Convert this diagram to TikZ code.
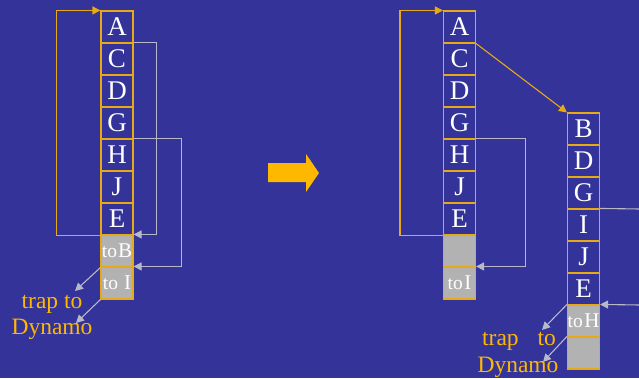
\documentclass[tikz,border=0pt]{standalone}
\usepackage{fontspec}
\setmainfont{Liberation Serif}
\usetikzlibrary{arrows.meta}
\definecolor{bgblue}{RGB}{51,51,153}
\definecolor{gold}{RGB}{255,184,0}
\definecolor{edgegold}{RGB}{232,170,20}
\definecolor{cellgray}{RGB}{178,178,178}
\definecolor{linegray}{RGB}{184,184,200}
% "to X" label: small "to", larger target letter, adjustable gap
\newcommand{\jumpto}[2][1.5pt]{to\kern#1{\fontsize{21}{21}\selectfont #2}}
\tikzset{
  cell/.style={draw=edgegold, line width=1.1pt, minimum width=32pt, minimum height=32pt,
    inner sep=0pt, text=white, font=\fontsize{27}{27}\selectfont},
  grcell/.style={cell, fill=cellgray, font=\fontsize{19.5}{20}\selectfont},
  loopline/.style={draw=edgegold, line width=1.1pt, -{Triangle[length=8pt,width=8pt]}},
  ptr/.style={draw=linegray, line width=1.1pt, -{Triangle[length=8pt,width=8pt]}},
  plainptr/.style={draw=linegray, line width=1.1pt},
  note/.style={text=gold, font=\fontsize{23.5}{24}\selectfont, inner sep=0pt}
}
\begin{document}
\begin{tikzpicture}[x=1pt,y=-1pt]
  % background
  \fill[bgblue] (0,0) rectangle (639,378);
  \useasboundingbox (0,0) rectangle (639,378);

  % ---- left column: block before the change ----
  \foreach \n/\t [count=\i from 0] in {lA/A,lC/C,lD/D,lG/G,lH/H,lJ/J,lE/E}
    \node[cell] (\n) at (117,27+32*\i) {\t};
  \node[grcell] (lB) at (117,251) {\jumpto[1pt]{B}};
  \node[grcell] (lI) at (117,283) {\jumpto[6pt]{I}};

  \draw[loopline] (lE.south west) -- ++(-44,0) |- (lA.north west);
  \draw[ptr] (lC.north east) -- ++(23,0) |- (lB.north east);
  \draw[ptr] (lH.north east) -- ++(48,0) |- (lI.north east);

  \coordinate (lt1) at (75,291);
  \coordinate (lt2) at (76,323);
  \draw[ptr] (lB.south west) -- (lt1);
  \draw[ptr] (lI.south west) -- (lt2);
  \node[note] (ltrap) at (52,304) {trap to};
  \node[note] (ldyn) at (52,329) {Dynamo};

  % ---- transition arrow ----
  \fill[gold] (268,163) -- (306,163) -- (306,154) -- (319,173) -- (306,192)
    -- (306,182) -- (268,182) -- cycle;

  % ---- middle column: block after the change ----
  \foreach \n/\t [count=\i from 0] in {mA/A,mC/C,mD/D,mG/G,mH/H,mJ/J,mE/E}
    \node[cell] (\n) at (459.5,27+32*\i) {\t};
  \node[grcell] (mX) at (459.5,251) {};
  \node[grcell] (mI) at (459.5,283) {\jumpto{I}};

  \draw[loopline] (mE.south west) -- ++(-43,0) |- (mA.north west);
  \draw[ptr] (mH.north east) -- ++(49,0) |- (mI.north east);

  % ---- right column: new block ----
  \foreach \n/\t [count=\i from 0] in {rB/B,rD/D,rG/G,rI/I,rJ/J,rE/E}
    \node[cell] (\n) at (583.5,129+32*\i) {\t};
  \node[grcell] (rH) at (583.5,321) {\jumpto{H}};
  \node[grcell] (rX) at (583.5,353) {};

  \draw[loopline] (mA.south east) -- (rB.north west);

  \coordinate (rout) at (640,209);
  \coordinate (rin) at (640,305);
  \draw[plainptr] (rI.north east) -- (rout);
  \draw[ptr] (rin) -- (rH.north east);

  \coordinate (rt1) at (542,330);
  \coordinate (rt2) at (543,362);
  \draw[ptr] (rH.north west) -- (rt1);
  \draw[ptr] (rX.north west) -- (rt2);
  \node[note] (rtrap) at (519,341) {trap\hspace{0.8em}to};
  \node[note] (rdyn) at (518,367) {Dynamo};
\end{tikzpicture}
\end{document}
